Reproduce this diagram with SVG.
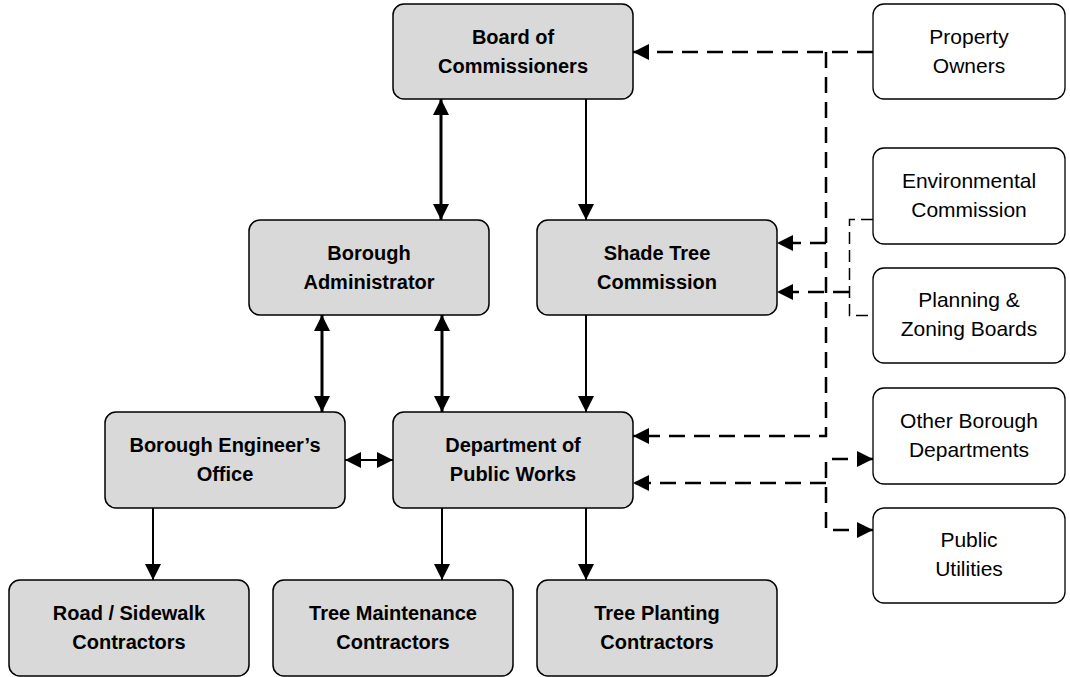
<svg xmlns="http://www.w3.org/2000/svg" width="1070" height="677" viewBox="0 0 1070 677">
<style>
.g rect{fill:#d9d9d9;stroke:#000;stroke-width:1.5}
.w rect{fill:#fff;stroke:#000;stroke-width:1.3}
.g text{font-family:"Liberation Sans",Arial,sans-serif;font-weight:bold;font-size:20px;text-anchor:middle;fill:#000}
.w text{font-family:"Liberation Sans",Arial,sans-serif;font-size:21px;text-anchor:middle;fill:#000}
.s{fill:none;stroke:#000;stroke-width:2}
.t{fill:none;stroke:#000;stroke-width:3}
.d{fill:none;stroke:#000;stroke-width:2.5;stroke-dasharray:16 9}
.dt{fill:none;stroke:#000;stroke-width:1.5;stroke-dasharray:12 6}
</style>
<defs>
<marker id="ah" markerUnits="userSpaceOnUse" markerWidth="16" markerHeight="16" viewBox="0 0 15 15" refX="15" refY="7.5" orient="auto-start-reverse">
<path d="M0,0 L15,7.5 L0,15 z" fill="#000"/>
</marker>
</defs>
<g id="connectors">
<path class="t" d="M441,99 V220" marker-start="url(#ah)" marker-end="url(#ah)"/>
<path class="s" d="M586,99 V220" marker-end="url(#ah)"/>
<path class="t" d="M322,315 V412" marker-start="url(#ah)" marker-end="url(#ah)"/>
<path class="t" d="M442,315 V412" marker-start="url(#ah)" marker-end="url(#ah)"/>
<path class="s" d="M586,315 V412" marker-end="url(#ah)"/>
<path class="s" d="M345,460 H393" marker-start="url(#ah)" marker-end="url(#ah)"/>
<path class="s" d="M153,508 V580" marker-end="url(#ah)"/>
<path class="s" d="M442,508 V580" marker-end="url(#ah)"/>
<path class="s" d="M586,508 V580" marker-end="url(#ah)"/>
<path class="d" d="M873,52 H633" marker-end="url(#ah)"/>
<path class="d" d="M826,52 V436 H633" marker-end="url(#ah)"/>
<path class="d" d="M826,243 H777" marker-end="url(#ah)"/>
<path class="dt" d="M873,219.5 H849.5 V315.5 H873"/>
<path class="d" d="M849,292 H777" marker-end="url(#ah)"/>
<path class="d" d="M826,483 H633" marker-end="url(#ah)"/>
<path class="d" d="M873,459 H826 V530 H873" marker-start="url(#ah)" marker-end="url(#ah)"/>
</g>
<g id="board" class="g"><rect x="393" y="4" width="240" height="95" rx="11"/><text x="513"><tspan x="513" y="44">Board of</tspan><tspan x="513" y="73">Commissioners</tspan></text></g>
<g id="admin" class="g"><rect x="249" y="220" width="240" height="95" rx="11"/><text><tspan x="369" y="260">Borough</tspan><tspan x="369" y="289">Administrator</tspan></text></g>
<g id="shade" class="g"><rect x="537" y="220" width="240" height="95" rx="11"/><text><tspan x="657" y="260">Shade Tree</tspan><tspan x="657" y="289">Commission</tspan></text></g>
<g id="engineer" class="g"><rect x="105" y="412" width="240" height="96" rx="11"/><text><tspan x="225" y="452">Borough Engineer’s</tspan><tspan x="225" y="481">Office</tspan></text></g>
<g id="dpw" class="g"><rect x="393" y="412" width="240" height="96" rx="11"/><text><tspan x="513" y="452">Department of</tspan><tspan x="513" y="481">Public Works</tspan></text></g>
<g id="road" class="g"><rect x="9" y="580" width="240" height="96" rx="11"/><text><tspan x="129" y="620">Road / Sidewalk</tspan><tspan x="129" y="649">Contractors</tspan></text></g>
<g id="treemaint" class="g"><rect x="273" y="580" width="240" height="96" rx="11"/><text><tspan x="393" y="620">Tree Maintenance</tspan><tspan x="393" y="649">Contractors</tspan></text></g>
<g id="treeplant" class="g"><rect x="537" y="580" width="240" height="96" rx="11"/><text><tspan x="657" y="620">Tree Planting</tspan><tspan x="657" y="649">Contractors</tspan></text></g>
<g id="property" class="w"><rect x="873" y="4" width="192" height="95" rx="11"/><text><tspan x="969" y="44">Property</tspan><tspan x="969" y="73">Owners</tspan></text></g>
<g id="environmental" class="w"><rect x="873" y="148" width="192" height="96" rx="11"/><text><tspan x="969" y="188">Environmental</tspan><tspan x="969" y="217">Commission</tspan></text></g>
<g id="planning" class="w"><rect x="873" y="268" width="192" height="95" rx="11"/><text><tspan x="969" y="307">Planning &amp;</tspan><tspan x="969" y="336">Zoning Boards</tspan></text></g>
<g id="otherdepts" class="w"><rect x="873" y="388" width="192" height="96" rx="11"/><text><tspan x="969" y="428">Other Borough</tspan><tspan x="969" y="457">Departments</tspan></text></g>
<g id="utilities" class="w"><rect x="873" y="508" width="192" height="95" rx="11"/><text><tspan x="969" y="547">Public</tspan><tspan x="969" y="576">Utilities</tspan></text></g>
</svg>
